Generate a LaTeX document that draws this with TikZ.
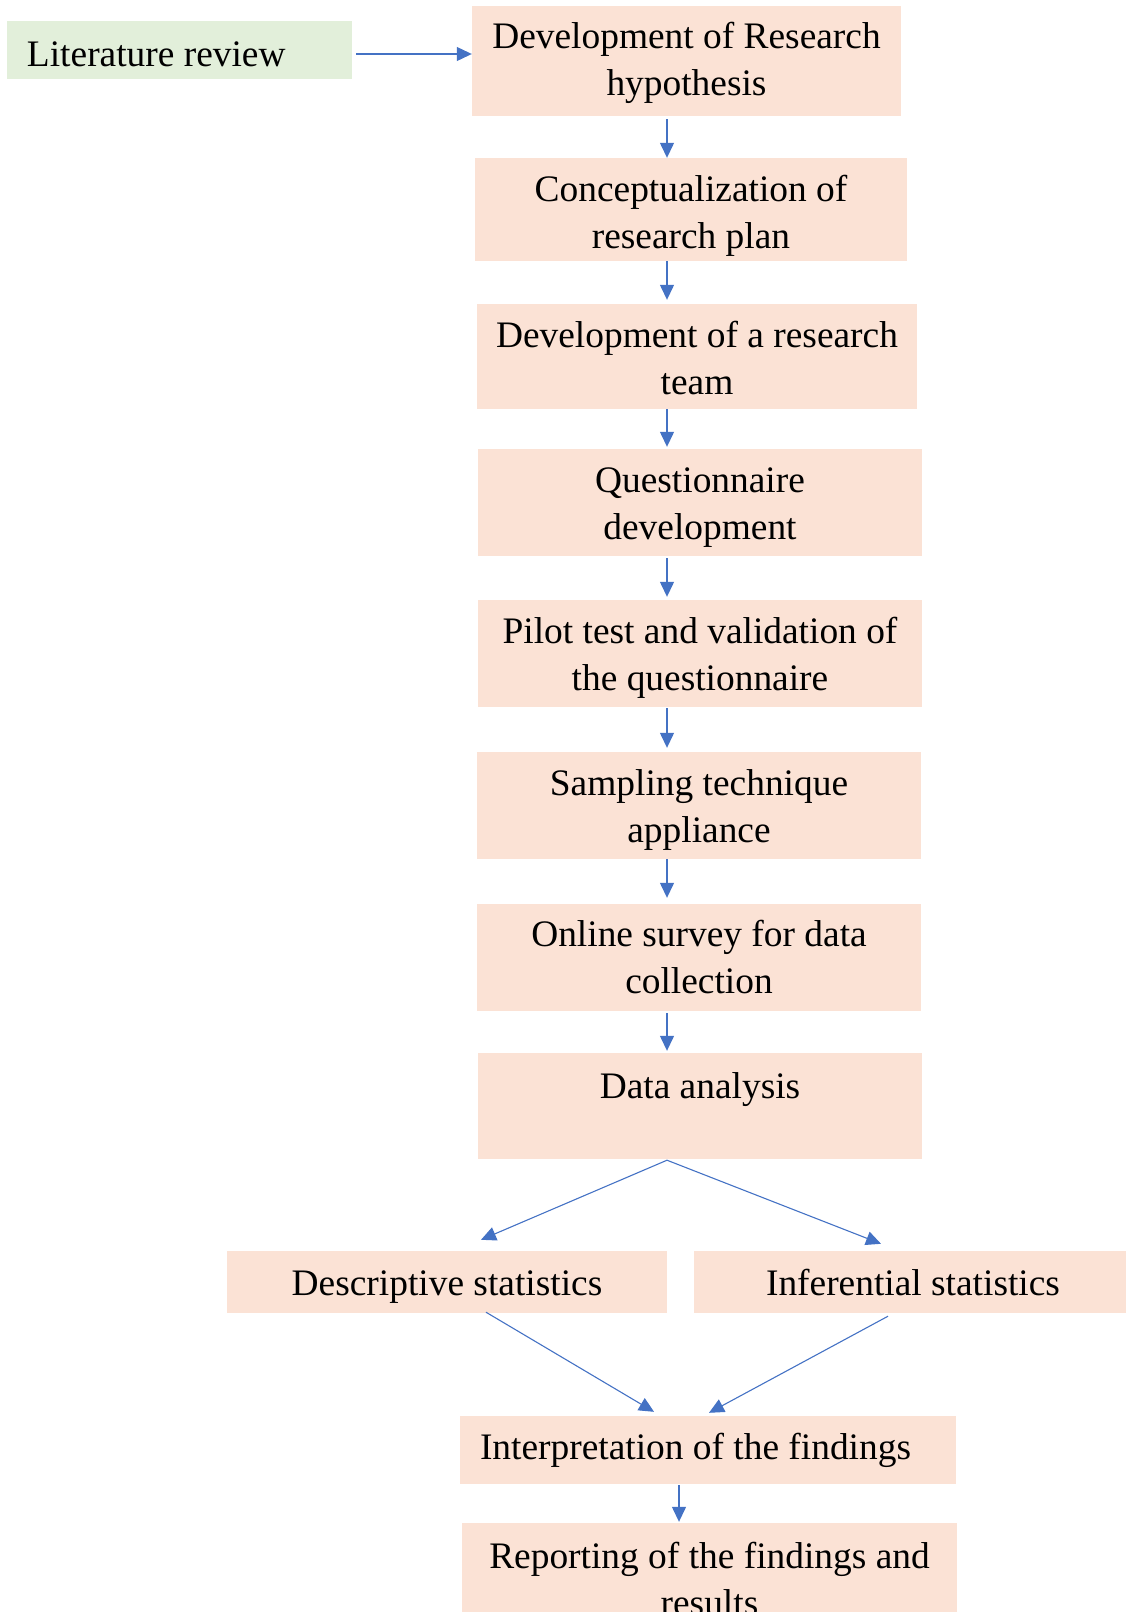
\documentclass[tikz,border=0pt]{standalone}
\usepackage{fontspec}
\setmainfont{Liberation Serif}
\usetikzlibrary{arrows.meta,calc}
\definecolor{peach}{HTML}{FBE2D5}
\definecolor{lgreen}{HTML}{E2EFDA}
\definecolor{ablue}{HTML}{4472C4}
\begin{document}
\begin{tikzpicture}[x=1pt,y=-1pt,
  box/.style={fill=peach, draw=none, inner sep=0pt},
  litbox/.style={fill=lgreen, draw=none, inner sep=0pt},
  txt/.style={inner sep=0pt, align=center, font=\fontsize{37.4}{47}\selectfont},
  ltxt/.style={inner sep=0pt, anchor=west, font=\fontsize{37.4}{47}\selectfont},
  conn/.style={draw=ablue, line width=1.3pt, -{Triangle[length=15pt,width=14pt]}},
  line/.style={draw=ablue, line width=1.1pt, -{Triangle[length=15pt,width=14pt]}}]
\useasboundingbox (0,0) rectangle (1126,1612);
\clip (0,0) rectangle (1126,1612);
\coordinate (ax) at (667,0);
\coordinate (bx) at (679,0);
% boxes
\node[litbox, minimum width=345pt, minimum height=58pt] (lit) at (179.5,50) {};
\node[box, minimum width=429pt, minimum height=110pt] (b1) at (686.5,61) {};
\node[box, minimum width=432pt, minimum height=103pt] (b2) at (691,209.5) {};
\node[box, minimum width=440pt, minimum height=105pt] (b3) at (697,356.5) {};
\node[box, minimum width=444pt, minimum height=107pt] (b4) at (700,502.5) {};
\node[box, minimum width=444pt, minimum height=107pt] (b5) at (700,653.5) {};
\node[box, minimum width=444pt, minimum height=107pt] (b6) at (699,805.5) {};
\node[box, minimum width=444pt, minimum height=107pt] (b7) at (699,957.5) {};
\node[box, minimum width=444pt, minimum height=106pt] (b8) at (700,1106) {};
\node[box, minimum width=440pt, minimum height=62pt] (desc) at (447,1282) {};
\node[box, minimum width=432pt, minimum height=62pt] (inf) at (910,1282) {};
\node[box, minimum width=496pt, minimum height=68pt] (interp) at (708,1450) {};
\node[box, minimum width=495pt, minimum height=108pt] (rep) at (709.5,1577) {};
% texts
\node[ltxt] (litt) at ($(lit.west)+(20,4)$) {Literature review};
\node[txt] (b1t) at ($(b1)+(0,2)$) {Development of Research\\hypothesis};
\node[txt] (b2t) at ($(b2)+(0,6.5)$) {Conceptualization of\\research plan};
\node[txt] (b3t) at ($(b3)+(0,1.5)$) {Development of a research\\team};
\node[txt] (b4t) at ($(b4)+(0,5)$) {Questionnaire\\development};
\node[txt] (b5t) at ($(b5)+(0,4)$) {Pilot test and validation of\\the questionnaire};
\node[txt] (b6t) at ($(b6)+(0,4)$) {Sampling technique\\appliance};
\node[txt] (b7t) at ($(b7)+(0,0)$) {Online survey for data\\collection};
\node[txt, anchor=north] (b8t) at ($(b8.north)+(0,20)$) {Data analysis};
\node[txt] (desct) at ($(desc)+(0,5)$) {Descriptive statistics};
\node[txt] (inft) at ($(inf)+(3,0)$) {Inferential statistics};
\node[ltxt] (interpt) at ($(interp.west)+(20,0)$) {Interpretation of the findings};
\node[txt] (rept) at ($(rep)+(0,1.5)$) {Reporting of the findings and\\results};
% connectors
\draw[line] ([xshift=4pt]lit.east |- 0,54) -- (b1.west |- 0,54);
\draw[conn] ([yshift=-3pt]b1.south -| ax) -- (b2.north -| ax);
\draw[conn] (b2.south -| ax) -- ([yshift=4pt]b3.north -| ax);
\draw[conn] (b3.south -| ax) -- ([yshift=2pt]b4.north -| ax);
\draw[conn] ([yshift=-2pt]b4.south -| ax) -- ([yshift=3pt]b5.north -| ax);
\draw[conn] ([yshift=-1pt]b5.south -| ax) -- ([yshift=4pt]b6.north -| ax);
\draw[conn] (b6.south -| ax) -- ([yshift=6pt]b7.north -| ax);
\draw[conn] ([yshift=-2pt]b7.south -| ax) -- ([yshift=2pt]b8.north -| ax);
\draw[line] ([yshift=-1pt]b8.south -| ax) -- ([xshift=34pt,yshift=11pt]desc.north);
\draw[line] ([yshift=-1pt]b8.south -| ax) -- ([xshift=-29pt,yshift=7pt]inf.north);
\draw[line] ([xshift=39pt,yshift=1pt]desc.south) -- ([xshift=-54pt,yshift=4pt]interp.north);
\draw[line] ([xshift=-22pt,yshift=-3pt]inf.south) -- ([xshift=1pt,yshift=3pt]interp.north);
\draw[conn] ([yshift=-1pt]interp.south -| bx) -- ([yshift=1pt]rep.north -| bx);
\end{tikzpicture}
\end{document}
